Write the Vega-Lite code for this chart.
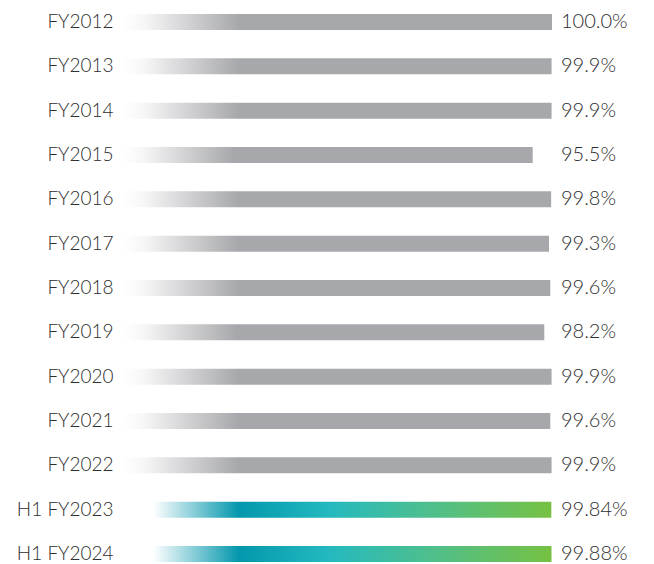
{
  "$schema": "https://vega.github.io/schema/vega-lite/v6.json",
  "autosize": "none",
  "width": 429,
  "height": 574,
  "padding": {"left": 123, "top": 1, "right": 102, "bottom": 0},
  "background": "white",
  "config": {"view": {"stroke": null}, "font": "Lato"},
  "data": {
    "values": [
      {"period": "FY2012", "value": 100.0, "label": "100.0%", "group": "annual"},
      {"period": "FY2013", "value": 99.9, "label": "99.9%", "group": "annual"},
      {"period": "FY2014", "value": 99.9, "label": "99.9%", "group": "annual"},
      {"period": "FY2015", "value": 95.5, "label": "95.5%", "group": "annual"},
      {"period": "FY2016", "value": 99.8, "label": "99.8%", "group": "annual"},
      {"period": "FY2017", "value": 99.3, "label": "99.3%", "group": "annual"},
      {"period": "FY2018", "value": 99.6, "label": "99.6%", "group": "annual"},
      {"period": "FY2019", "value": 98.2, "label": "98.2%", "group": "annual"},
      {"period": "FY2020", "value": 99.9, "label": "99.9%", "group": "annual"},
      {"period": "FY2021", "value": 99.6, "label": "99.6%", "group": "annual"},
      {"period": "FY2022", "value": 99.9, "label": "99.9%", "group": "annual"},
      {"period": "H1 FY2023", "value": 99.84, "label": "99.84%", "group": "half"},
      {"period": "H1 FY2024", "value": 99.88, "label": "99.88%", "group": "half"}
    ]
  },
  "encoding": {
    "y": {
      "field": "period",
      "type": "nominal",
      "sort": null,
      "scale": {"paddingInner": 0.639, "paddingOuter": 0.294},
      "axis": {
        "title": null,
        "domain": false,
        "ticks": false,
        "labelPadding": 10,
        "labelFontSize": 19,
        "labelFontWeight": 300,
        "labelColor": "#2e2e2e",
        "labelFont": "Lato"
      }
    }
  },
  "layer": [
    {
      "transform": [{"filter": "datum.group === 'annual'"}],
      "mark": {
        "type": "bar",
        "fill": {
          "gradient": "linear",
          "x1": 0, "y1": 0, "x2": 1, "y2": 0,
          "stops": [
            {"offset": 0, "color": "#ffffff"},
            {"offset": 0.05, "color": "#f6f6f7"},
            {"offset": 0.27, "color": "#a7a8ab"},
            {"offset": 1, "color": "#a7a8ab"}
          ]
        }
      },
      "encoding": {
        "x": {"field": "value", "type": "quantitative", "scale": {"domain": [0, 100], "zero": true}, "axis": null}
      }
    },
    {
      "transform": [{"filter": "datum.group === 'half'"}],
      "mark": {
        "type": "bar",
        "fill": {
          "gradient": "linear",
          "x1": 0, "y1": 0, "x2": 1, "y2": 0,
          "stops": [
            {"offset": 0, "color": "#ffffff"},
            {"offset": 0.07, "color": "#ffffff"},
            {"offset": 0.27, "color": "#0497ad"},
            {"offset": 0.48, "color": "#24b9bf"},
            {"offset": 0.72, "color": "#4fbf8c"},
            {"offset": 1, "color": "#76c142"}
          ]
        }
      },
      "encoding": {
        "x": {"field": "value", "type": "quantitative", "scale": {"domain": [0, 100], "zero": true}, "axis": null}
      }
    },
    {
      "mark": {"type": "text", "align": "left", "baseline": "middle", "dx": 9, "fontSize": 20, "fontWeight": 300, "color": "#2e2e2e", "font": "Lato"},
      "encoding": {
        "x": {"datum": 100, "type": "quantitative"},
        "text": {"field": "label"}
      }
    }
  ]
}
